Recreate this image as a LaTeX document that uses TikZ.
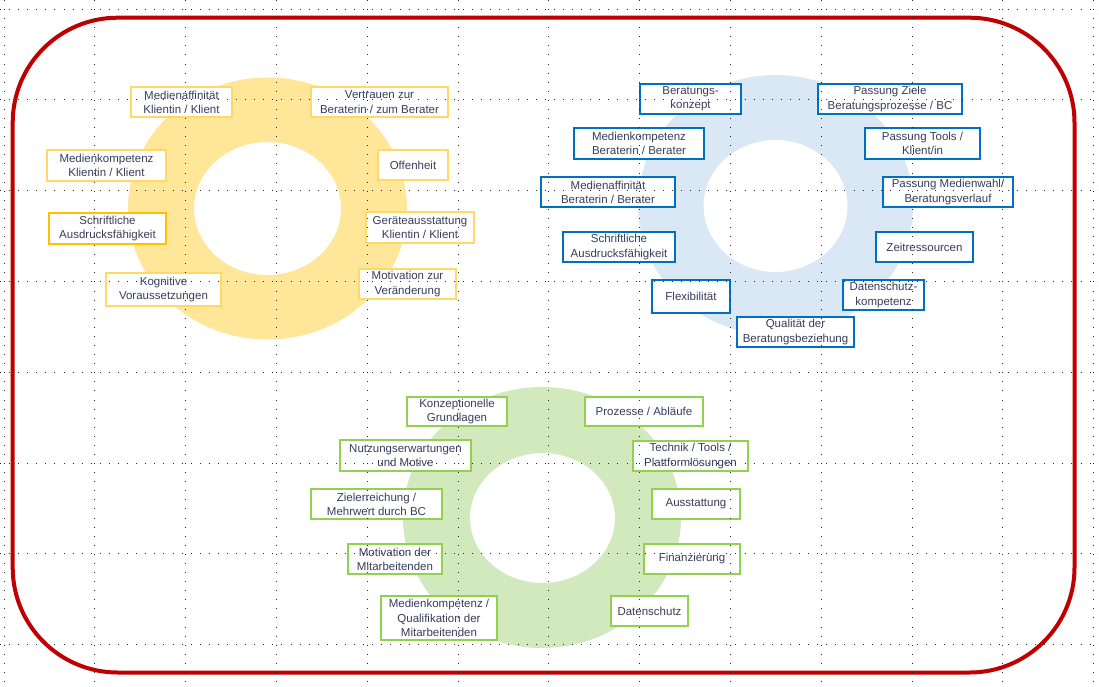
\documentclass[tikz,border=0pt]{standalone}
\usepackage{fontspec}
\setmainfont{Liberation Sans}
\definecolor{txt}{HTML}{383D5C}
\definecolor{yring}{HTML}{FFE699}
\definecolor{bring}{HTML}{DAE8F6}
\definecolor{gring}{HTML}{D2E9BD}
\definecolor{yline}{HTML}{FFD966}
\definecolor{yline2}{HTML}{FFC000}
\definecolor{bline}{HTML}{0070C0}
\definecolor{gline}{HTML}{92D050}
\definecolor{frame}{HTML}{C00000}
\tikzset{
  lbl/.style={rectangle, fill=white, text=txt, align=center, inner sep=0pt,
    font=\fontsize{11.5}{14.2}\selectfont},
  ybox/.style={lbl, draw=yline, line width=1.6pt},
  bbox/.style={lbl, draw=bline, line width=1.8pt},
  gbox/.style={lbl, draw=gline, line width=1.6pt},
  gridline/.style={black!85, line width=0.9pt, dash pattern=on 0.9pt off 8.18pt},
  redframe/.style={draw=frame, line width=4pt, rounded corners=105pt}
}
\begin{document}
\begin{tikzpicture}[x=1pt,y=-1pt]
\useasboundingbox (0,0) rectangle (1099,686);
\fill[white] (0,0) rectangle (1099,686);
% frame
\draw[redframe] (12.7,17.7) rectangle (1074.5,672.5);
% rings
\coordinate (yc) at (267.5,208.5);
\coordinate (bc) at (775.5,205);
\coordinate (gc) at (542,517.5);
\fill[yring, even odd rule] (yc) ellipse [x radius=139.5pt, y radius=131pt]
  (yc) ellipse [x radius=73.5pt, y radius=66.5pt];
\fill[bring, even odd rule] (bc) ellipse [x radius=137.5pt, y radius=130pt]
  (775.5,206) ellipse [x radius=72pt, y radius=66pt];
\fill[gring, even odd rule] (gc) ellipse [x radius=139pt, y radius=130.5pt]
  (542.5,518) ellipse [x radius=72.5pt, y radius=65pt];
% yellow boxes
\node[ybox, minimum width=101pt, minimum height=30pt] (y1) at (181.5,102) {Medienaffinität\\Klientin / Klient};
\node[ybox, minimum width=137pt, minimum height=30pt] (y2) at (379.5,102) {Vertrauen zur\\Beraterin / zum Berater};
\node[ybox, minimum width=119pt, minimum height=31pt] (y3) at (106.5,165.5) {Medienkompetenz\\Klientin / Klient};
\node[ybox, minimum width=70pt, minimum height=30pt] (y4) at (413,165) {Offenheit};
\node[ybox, draw=yline2, minimum width=117pt, minimum height=31pt] (y5) at (107.5,228.5) {Schriftliche\\Ausdrucksfähigkeit};
\node[ybox, minimum width=108pt, minimum height=31pt] (y6) at (420,227.5) {Geräteausstattung\\Klientin / Klient};
\node[ybox, minimum width=115pt, minimum height=33pt] (y7) at (163.5,289.5) {Kognitive\\Voraussetzungen};
\node[ybox, minimum width=97pt, minimum height=30pt] (y8) at (407.5,284) {Motivation zur\\Veränderung};
% blue boxes
\node[bbox, minimum width=101pt, minimum height=30pt] (b1) at (690.5,99) {Beratungs-\\konzept};
\node[bbox, minimum width=144pt, minimum height=30pt] (b2) at (890,99) {Passung Ziele\\Beratungsprozesse / BC};
\node[bbox, minimum width=130pt, minimum height=31pt] (b3) at (639,143.5) {Medienkompetenz\\Beraterin / Berater};
\node[bbox, minimum width=115pt, minimum height=31pt] (b4) at (922.5,143.5) {Passung Tools /\\Klient/in};
\node[bbox, minimum width=134pt, minimum height=30pt] (b5) at (608,192) {Medienaffinität\\Beraterin / Berater};
\node[bbox, minimum width=130pt, minimum height=30pt] (b6) at (948,192) {Passung Medienwahl/\\Beratungsverlauf};
\node[bbox, minimum width=112pt, minimum height=30pt] (b7) at (619,247) {Schriftliche\\Ausdrucksfähigkeit};
\node[bbox, minimum width=97pt, minimum height=30pt] (b8) at (924.5,247) {Zeitressourcen};
\node[bbox, minimum width=78pt, minimum height=33pt] (b9) at (691,296.5) {Flexibilität};
\node[bbox, minimum width=81pt, minimum height=30pt] (b10) at (883.5,295) {Datenschutz-\\kompetenz};
\node[bbox, minimum width=117pt, minimum height=30pt] (b11) at (795.5,332) {Qualität der\\Beratungsbeziehung};
% green boxes
\node[gbox, minimum width=100pt, minimum height=29pt] (g1) at (457,411.5) {Konzeptionelle\\Grundlagen};
\node[gbox, minimum width=118pt, minimum height=29pt] (g2) at (644,411.5) {Prozesse / Abläufe};
\node[gbox, minimum width=131pt, minimum height=31pt] (g3) at (405.5,455.5) {Nutzungserwartungen\\und Motive};
\node[gbox, minimum width=115pt, minimum height=30pt] (g4) at (690.5,456) {Technik / Tools /\\Plattformlösungen};
\node[gbox, minimum width=131pt, minimum height=30pt] (g5) at (376.5,504) {Zielerreichung /\\Mehrwert durch BC};
\node[gbox, minimum width=88pt, minimum height=30pt] (g6) at (696,504) {Ausstattung};
\node[gbox, minimum width=94pt, minimum height=30pt] (g7) at (395,559) {Motivation der\\Mitarbeitenden};
\node[gbox, minimum width=96pt, minimum height=30pt] (g8) at (692,559) {Finanzierung};
\node[gbox, minimum width=116pt, minimum height=44pt] (g9) at (439,618) {Medienkompetenz /\\Qualifikation der\\Mitarbeitenden};
\node[gbox, minimum width=77pt, minimum height=30pt] (g10) at (649.5,611) {Datenschutz};
% grid overlay
\foreach \i in {0,...,12} {
  \draw[gridline] (4+90.8*\i,0) -- (4+90.8*\i,686);
}
\foreach \j in {0,...,7} {
  \draw[gridline] (0,9+90.8*\j) -- (1099,9+90.8*\j);
}
\end{tikzpicture}
\end{document}
